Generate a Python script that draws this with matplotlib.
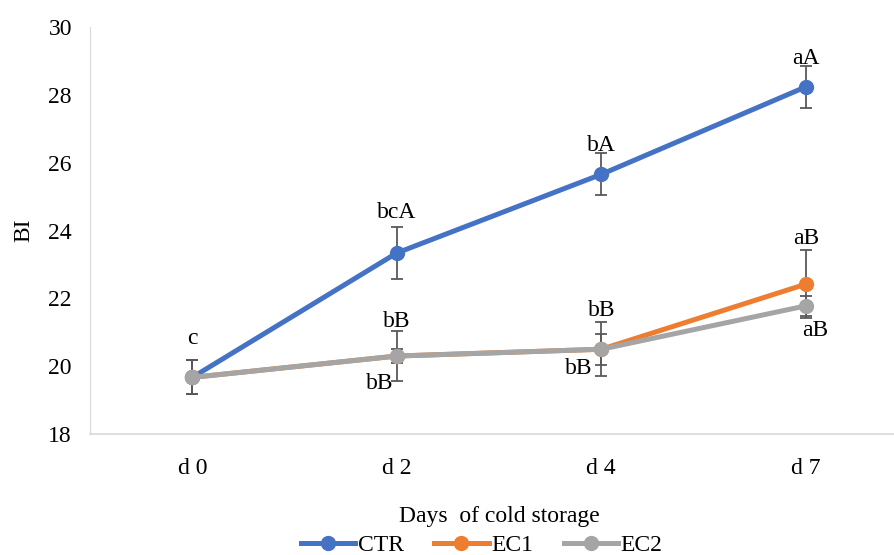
import matplotlib.pyplot as plt
from matplotlib.lines import Line2D

days = ["d 0", "d 2", "d 4", "d 7"]

ctr = [19.67, 23.34, 25.66, 28.24]
ctr_err = [0.5, 0.78, 0.62, 0.62]
ec1 = [19.67, 20.3, 20.5, 22.42]
ec1_err = [0.5, 0.75, 0.45, 1.0]
ec2 = [19.67, 20.3, 20.5, 21.78]
ec2_err = [0.5, 0.2, 0.8, 0.3]

ctr_labels = ["c", "bcA", "bA", "aA"]
ec1_labels = ["", "bB", "bB", "aB"]
ec2_labels = ["", "bB", "bB", "aB"]

plt.rcParams['font.family'] = ['Liberation Serif', 'DejaVu Serif']
FS = 17

fig = plt.figure(figsize=(8.95, 5.55), dpi=100)
ax = fig.add_axes([0.1006, 0.218, 0.914, 0.733])

x = list(range(len(days)))
series = [("CTR", ctr, ctr_err, "#4472C4"),
          ("EC1", ec1, ec1_err, "#ED7D31"),
          ("EC2", ec2, ec2_err, "#A5A5A5")]
handles = []
for name, vals, err, col in series:
    ax.errorbar(x, vals, yerr=err, color=col, lw=3.6, marker="o", ms=10,
                ecolor="#595959", elinewidth=1.3, capsize=4.5, capthick=1.3,
                zorder=3)
    handles.append(Line2D([], [], color=col, lw=3.6, marker="o", ms=10, label=name))

# significance letters (offsets in points, text baseline)
ctr_offs = [(0, 24), (0, 25), (0, 16.5), (0, 16.5)]
ec1_offs = [None, (0, 21), (0, 24), (0, 29)]
ec2_offs = [None, (-12, -23.5), (-16, -18), (6.5, -21.5)]
for i, t in enumerate(ctr_labels):
    ax.annotate(t, (x[i], ctr[i]), xytext=ctr_offs[i], textcoords="offset points",
                ha="center", va="baseline", fontsize=FS)
for i in range(1, len(days)):
    ax.annotate(ec1_labels[i], (x[i], ec1[i]), xytext=ec1_offs[i],
                textcoords="offset points", ha="center", va="baseline", fontsize=FS)
    ax.annotate(ec2_labels[i], (x[i], ec2[i]), xytext=ec2_offs[i],
                textcoords="offset points", ha="center", va="baseline", fontsize=FS)

ax.set_xlim(-0.5, 3.5)
ax.set_ylim(18, 30)
ax.set_yticks(range(18, 31, 2))
ax.set_xticks(x)
ax.set_xticklabels(days)
ax.tick_params(length=0, labelsize=FS)
ax.tick_params(axis="y", pad=13)
ax.tick_params(axis="x", pad=17)
for s in ["top", "right"]:
    ax.spines[s].set_visible(False)
ax.spines["left"].set_color("#D9D9D9")
ax.spines["bottom"].set_color("#D9D9D9")
ax.spines["bottom"].set_linewidth(1.2)

ax.set_xlabel("Days  of cold storage", fontsize=FS, labelpad=20)
ax.set_ylabel("BI", fontsize=FS, labelpad=10)

fig.legend(handles=handles, loc="center", bbox_to_anchor=(0.538, 0.018), ncol=3,
           frameon=False, fontsize=FS, handlelength=2.3, columnspacing=1.3,
           handletextpad=0.1, borderpad=0)

fig.savefig("out.png", dpi=100)
